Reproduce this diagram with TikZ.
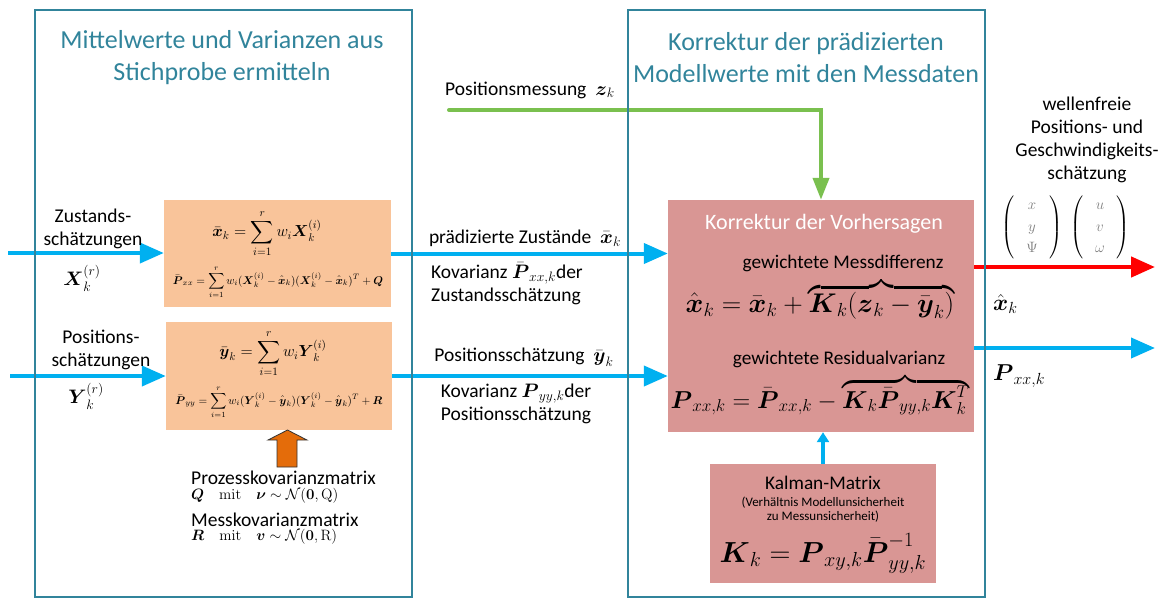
\documentclass[tikz,border=0pt]{standalone}
\usepackage{fix-cm}
\usepackage{amsmath,amssymb}
\usepackage[no-math]{fontspec}
\setmainfont{Carlito}
\usetikzlibrary{arrows.meta}
\definecolor{frameC}{HTML}{31849B}
\definecolor{blueC}{HTML}{00B0F0}
\definecolor{greenC}{HTML}{7AC04F}
\definecolor{redC}{HTML}{FF0000}
\definecolor{oboxC}{HTML}{F9C49A}
\definecolor{pboxC}{HTML}{D99694}
\definecolor{oarrC}{HTML}{E46C0A}
\definecolor{grayC}{HTML}{7F7F7F}
\newcommand{\bs}[1]{\boldsymbol{#1}}
\tikzset{
  frameS/.style={draw=frameC, line width=2pt},
  ttl/.style={text=frameC, align=center, font=\fontsize{26}{32}\selectfont, inner sep=0pt},
  lbl/.style={align=center, font=\fontsize{19.5}{23}\selectfont, inner sep=0pt},
  obox/.style={fill=oboxC, draw=none, inner sep=0pt},
  pbox/.style={fill=pboxC, draw=none, inner sep=0pt},
  barrow/.style={draw=blueC, line width=4pt, -{Triangle[length=24pt,width=20pt]}},
  rarrow/.style={draw=redC, line width=4.5pt, -{Triangle[length=24pt,width=20pt]}},
  garrow/.style={draw=greenC, line width=4pt, -{Triangle[length=22pt,width=16pt]}},
  vecm/.style={inner sep=0pt, font=\fontsize{15}{18}\selectfont},
}
\begin{document}
\begin{tikzpicture}[x=1pt,y=-1pt]
\useasboundingbox (0,0) rectangle (1161,598);
% boxes
\node[obox, minimum width=227pt, minimum height=107pt] (b1) at (277.5,253.5) {};
\node[obox, minimum width=226pt, minimum height=108pt] (b2) at (279,376) {};
\node[pbox, minimum width=306pt, minimum height=232pt] (pk) at (821,316) {};
\node[pbox, minimum width=226pt, minimum height=119pt] (kal) at (823,523.5) {};
% coordinates
\coordinate (in1) at (8,253);
\coordinate (in2) at (10,376);
\coordinate (g0) at (449,110);
\coordinate (o1) at (1155,267);
\coordinate (o2) at (1155,348);
% arrows
\draw[barrow] (in1) -- (in1 -| b1.west);
\draw[barrow] (in2) -- (in2 -| b2.west);
\draw[barrow] (b1.east) -- (b1.east -| pk.west);
\draw[barrow] (b2.east) -- (b2.east -| pk.west);
\draw[rarrow] (o1 -| pk.east) -- (o1);
\draw[barrow] (o2 -| pk.east) -- (o2);
\draw[garrow, line cap=round] (g0) -| (pk.north);
\draw[barrow, -{Triangle[length=10pt,width=12pt]}] (kal.north) -- (kal.north |- pk.south);
% orange block arrow
\draw[fill=oarrC, draw=black!80, line width=0.8pt] (287.5,430) -- (307,440) -- (297,440) -- (297,467) -- (277,467) -- (277,440) -- (268,440) -- cycle;
% frames
\node[frameS, minimum width=377pt, minimum height=587pt, inner sep=0pt] (fl) at (223.5,303.5) {};
\node[frameS, minimum width=357pt, minimum height=587pt, inner sep=0pt] (fr) at (806.5,303.5) {};
% titles
\node[ttl] (t1) at (222,58) {Mittelwerte und Varianzen aus\\Stichprobe ermitteln};
\node[ttl] (t2) at (806,58) {Korrektur der prädizierten\\Modellwerte mit den Messdaten};
% left labels
\node[lbl] (zs) at (93,228.5) {Zustands-\\schätzungen};
\node[lbl] (Xr) at (82,278) {$\bs{X}_k^{(r)}$};
\node[lbl] (ps) at (101,350) {Positions-\\schätzungen};
\node[lbl] (Yr) at (86,396) {$\bs{Y}_k^{(r)}$};
% orange box formulas
\node[inner sep=0pt, font=\fontsize{16}{18}\selectfont] (e1) at (267,234) {$\displaystyle \bar{\bs{x}}_k = \sum_{i=1}^{r} w_i \bs{X}_k^{(i)}$};
\node[inner sep=0pt, font=\fontsize{11.2}{12}\selectfont] (e2) at (278,282) {$\displaystyle \bar{\bs{P}}_{xx} = \sum_{i=1}^{r} w_i(\bs{X}_k^{(i)} - \hat{\bs{x}}_k)(\bs{X}_k^{(i)} - \hat{\bs{x}}_k)^T + \bs{Q}$};
\node[inner sep=0pt, font=\fontsize{16}{18}\selectfont] (e3) at (273,354) {$\displaystyle \bar{\bs{y}}_k = \sum_{i=1}^{r} w_i \bs{Y}_k^{(i)}$};
\node[inner sep=0pt, font=\fontsize{11.2}{12}\selectfont] (e4) at (279,402) {$\displaystyle \bar{\bs{P}}_{yy} = \sum_{i=1}^{r} w_i(\bs{Y}_k^{(i)} - \hat{\bs{y}}_k)(\bs{Y}_k^{(i)} - \hat{\bs{y}}_k)^T + \bs{R}$};
% middle labels
\node[lbl] (pm) at (530,90) {Positionsmessung \ $\bs{z}_k$};
\node[lbl] (pz) at (525,238) {prädizierte Zustände \ $\bar{\bs{x}}_k$};
\node[lbl, align=left, anchor=west] (kv1) at (431,283.5) {Kovarianz $\bar{\bs{P}}_{xx,k}$der\\Zustandsschätzung};
\node[lbl] (psch) at (524,357) {Positionsschätzung \ $\bar{\bs{y}}_k$};
\node[lbl] (kv2) at (516,404) {Kovarianz $\bs{P}_{yy,k}$der\\Positionsschätzung};
% bottom left
\node[lbl, anchor=west] (pkm) at (191,478) {Prozesskovarianzmatrix};
\node[lbl, anchor=west, font=\fontsize{15}{17}\selectfont] (qm) at (191,496) {$\bs{Q} \quad \mathrm{mit} \quad \bs{\nu} \sim \mathcal{N}(\mathbf{0},\mathrm{Q})$};
\node[lbl, anchor=west] (mkm) at (191,520) {Messkovarianzmatrix};
\node[lbl, anchor=west, font=\fontsize{15}{17}\selectfont] (rm) at (191,537) {$\bs{R} \quad \mathrm{mit} \quad \bs{v} \sim \mathcal{N}(\mathbf{0},\mathrm{R})$};
% pink box content
\node[lbl, text=white, font=\fontsize{22}{24}\selectfont] (kvh) at (824,224) {Korrektur der Vorhersagen};
\node[lbl, font=\fontsize{19.3}{22}\selectfont] (gm) at (843,263) {gewichtete Messdifferenz};
\node[inner sep=0pt, anchor=base, font=\fontsize{27}{30}\selectfont] (f1) at (820,312) {$\hat{\bs{x}}_k = \bar{\bs{x}}_k + \overbrace{\bs{K}_k(\bs{z}_k - \bar{\bs{y}}_k)}$};
\node[lbl, font=\fontsize{19.3}{22}\selectfont] (gr) at (839,359) {gewichtete Residualvarianz};
\node[inner sep=0pt, anchor=base, font=\fontsize{24.5}{28}\selectfont] (f2) at (820,408) {$\bs{P}_{xx,k} = \bar{\bs{P}}_{xx,k} - \overbrace{\bs{K}_k\bar{\bs{P}}_{yy,k}\bs{K}_k^T}$};
% Kalman box
\node[lbl, font=\fontsize{19.3}{22}\selectfont] (kmt) at (823,483) {Kalman-Matrix};
\node[lbl, font=\fontsize{13}{14}\selectfont] (kms) at (823,510) {(Verhältnis Modellunsicherheit\\zu Messunsicherheit)};
\node[inner sep=0pt, anchor=base, font=\fontsize{29}{32}\selectfont] (kf) at (823,562) {$\bs{K}_k = \bs{P}_{xy,k}\bar{\bs{P}}_{yy,k}^{-1}$};
% right side
\node[lbl] (wf) at (1087,139.5) {wellenfreie\\Positions- und\\Geschwindigkeits-\\schätzung};
\node[vecm] (m1) at (1032,227) {\def\arraystretch{1.2}$\left(\begin{array}{@{\hspace{12pt}}c@{\hspace{12pt}}}\color{grayC}x\\ \color{grayC}y\\ \color{grayC}\Psi\end{array}\right)$};
\node[vecm] (m2) at (1100,227) {\def\arraystretch{1.2}$\left(\begin{array}{@{\hspace{12pt}}c@{\hspace{12pt}}}\color{grayC}u\\ \color{grayC}v\\ \color{grayC}\omega\end{array}\right)$};
\node[lbl, anchor=west, font=\fontsize{23}{26}\selectfont] (xh) at (993,304) {$\hat{\bs{x}}_k$};
\node[lbl, anchor=west, font=\fontsize{23}{26}\selectfont] (pxx) at (993,376) {$\bs{P}_{xx,k}$};
\end{tikzpicture}
\end{document}
